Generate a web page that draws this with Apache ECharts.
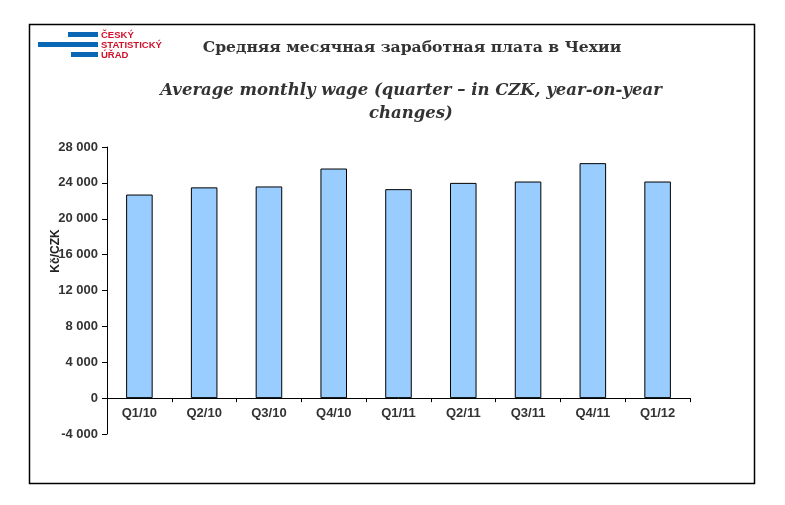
<!DOCTYPE html>
<html>
<head>
<meta charset="utf-8">
<script src="https://cdn.jsdelivr.net/npm/echarts@6/dist/echarts.min.js"></script>
<style>html,body{margin:0;padding:0;background:#fff;}#c{width:785px;height:505px;}</style>
</head>
<body>
<div id="c"></div>
<script>
const categories = ['Q1/10','Q2/10','Q3/10','Q4/10','Q1/11','Q2/11','Q3/11','Q4/11','Q1/12'];
const wages = [22700, 23500, 23600, 25600, 23300, 24000, 24150, 26200, 24150];
const yTicks = { min: -4000, max: 28000, interval: 4000 };
const titleRu = 'Средняя месячная заработная плата в Чехии';
const titleEn = 'Average monthly wage (quarter \u2013 in CZK, year-on-year\nchanges)';
const yName = 'Kč/CZK';
const logoLines = ['ČESKÝ', 'STATISTICKÝ', 'ÚŘAD'];

const chart = echarts.init(document.getElementById('c'), null, {renderer: 'canvas'});
const fmt = v => { const s = Math.abs(v).toString().replace(/\B(?=(\d{3})+(?!\d))/g, ' '); return (v < 0 ? '-' : '') + s; };
const logoBlue = '#0a67b5', logoRed = '#d0102a';
const gridTop = 147, gridBottomY = 434;
// pixel offset of the zero line from the bottom of the grid
const zeroOffset = (gridBottomY - gridTop) * (0 - yTicks.min) / (yTicks.max - yTicks.min);
chart.setOption({
  animation: false,
  backgroundColor: '#fff',
  title: [
    { text: titleRu, left: 407, top: 35, textAlign: 'center',
      textStyle: { fontFamily: 'DejaVu Serif', fontWeight: 'bold', fontSize: 15.6, color: '#333' } },
    { text: titleEn, left: 406, top: 74, textAlign: 'center',
      textStyle: { fontFamily: 'DejaVu Serif', fontWeight: 'bold', fontStyle: 'italic', fontSize: 16.5, lineHeight: 23, color: '#333' } }
  ],
  graphic: [
    { type: 'rect', shape: { x: 29.5, y: 24.5, width: 725, height: 459 }, style: { fill: 'none', stroke: '#000', lineWidth: 1.5 }, z: -1 },
    { type: 'rect', shape: { x: 68, y: 32, width: 30, height: 5 }, style: { fill: logoBlue } },
    { type: 'rect', shape: { x: 38, y: 42, width: 60, height: 5 }, style: { fill: logoBlue } },
    { type: 'rect', shape: { x: 71, y: 52, width: 27, height: 5 }, style: { fill: logoBlue } },
    { type: 'text', x: 101, y: 30, style: { text: logoLines.join('\n'), fill: logoRed, font: 'bold 9.5px Arial, "Liberation Sans", sans-serif', lineHeight: 10 } },
    { type: 'text', x: 56, y: 251, rotation: Math.PI / 2, style: { text: yName, fill: '#222', font: 'bold 12px Arial, "Liberation Sans", sans-serif', align: 'center', verticalAlign: 'middle' } }
  ],
  grid: { left: 107, right: 95, top: gridTop, bottom: 505 - gridBottomY, containLabel: false },
  xAxis: {
    type: 'category', data: categories, position: 'bottom', offset: -zeroOffset,
    axisLine: { onZero: false, lineStyle: { color: '#000', width: 1 } },
    axisTick: { show: true, length: 4, lineStyle: { color: '#000' } },
    axisLabel: { color: '#333', fontFamily: 'Arial, "Liberation Sans", sans-serif', fontWeight: 'bold', fontSize: 13, margin: 9 }
  },
  yAxis: {
    type: 'value', min: yTicks.min, max: yTicks.max, interval: yTicks.interval,
    axisLine: { show: true, lineStyle: { color: '#000', width: 1 } },
    axisTick: { show: true, length: 5, lineStyle: { color: '#000' } },
    splitLine: { show: false },
    axisLabel: { color: '#333', fontFamily: 'Arial, "Liberation Sans", sans-serif', fontWeight: 'bold', fontSize: 13, margin: 9, formatter: fmt }
  },
  series: [{
    type: 'bar', data: wages, barWidth: '41%',
    itemStyle: { color: '#99ccff', borderColor: '#000', borderWidth: 1 }
  }]
});
</script>
</body>
</html>
